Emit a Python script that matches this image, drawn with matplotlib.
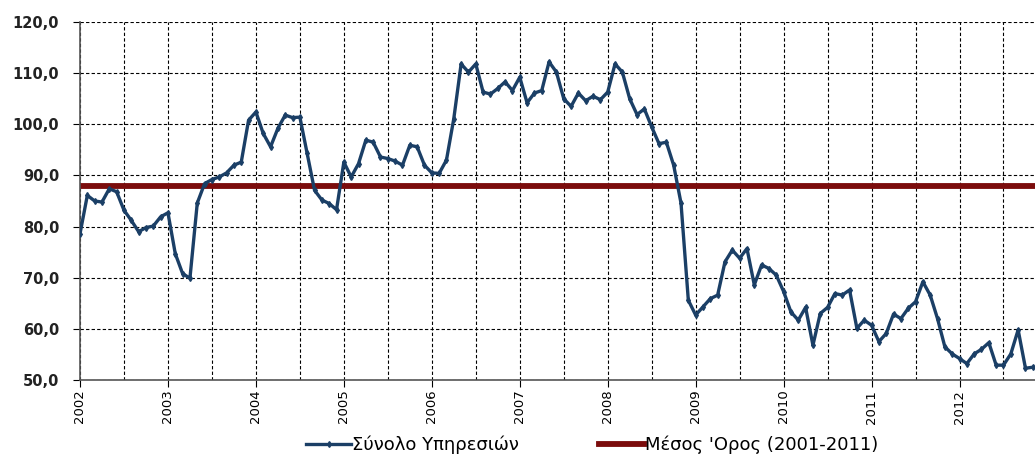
"""
Services confidence index, monthly 2002-2012, against its 2001-2011 mean.
"""

import matplotlib
matplotlib.use("Agg")
import matplotlib.pyplot as plt
import matplotlib.ticker as mticker
import numpy as np

# ---------------------------------------------------------------------------
# Data (Jan 2002 .. Nov 2012)
# ---------------------------------------------------------------------------

services = [
    78.6, 86.1, 85.0, 84.8, 87.4, 86.8, 83.2, 81.2, 79.0, 79.8, 80.1, 81.9,    # 2002
    82.7, 74.7, 70.8, 69.9, 84.6, 88.4, 89.2, 89.7, 90.5, 92.0, 92.6, 100.8,   # 2003
    102.4, 98.2, 95.6, 99.2, 101.8, 101.3, 101.4, 94.3, 87.1, 85.2, 84.5, 83.3,  # 2004
    92.6, 89.7, 92.3, 96.9, 96.5, 93.6, 93.3, 92.8, 92.0, 95.9, 95.6, 92.0,    # 2005
    90.5, 90.4, 93.0, 101.1, 111.8, 110.2, 111.8, 106.3, 105.9, 107.0, 108.3, 106.6,  # 2006
    109.2, 104.2, 106.1, 106.6, 112.2, 110.2, 105.0, 103.5, 106.1, 104.6, 105.5, 104.8,  # 2007
    106.3, 111.8, 110.2, 105.0, 101.9, 103.0, 99.5, 96.2, 96.5, 92.0, 84.6, 65.6,  # 2008
    62.7, 64.3, 65.9, 66.6, 73.1, 75.4, 73.8, 75.7, 68.6, 72.5, 71.8, 70.5,    # 2009
    67.3, 63.3, 61.7, 64.2, 56.8, 63.0, 64.2, 66.9, 66.6, 67.6, 60.1, 61.7,    # 2010
    60.7, 57.5, 59.1, 62.9, 62.0, 64.0, 65.3, 69.2, 66.6, 62.0, 56.5, 55.1,    # 2011
    54.2, 53.2, 55.1, 56.0, 57.3, 52.9, 52.9, 55.1, 59.8, 52.3, 52.5,          # 2012
]
mean_2001_2011 = 88.0
years = ["2002", "2003", "2004", "2005", "2006", "2007",
         "2008", "2009", "2010", "2011", "2012"]

series_label = "Σύνολο Υπηρεσιών"
mean_label = "Μέσος 'Ορος (2001-2011)"

# ---------------------------------------------------------------------------
# Plot
# ---------------------------------------------------------------------------

months = np.arange(len(services))

fig = plt.figure(figsize=(10.35, 4.61), dpi=100)
ax = fig.add_axes([80 / 1035, 1 - 380 / 461, 1 - 80 / 1035, (380 - 22) / 461])

ax.plot(months, services, color="#1b3f66", linewidth=2.4, marker="d",
        markersize=3, label=series_label, zorder=3)
ax.axhline(mean_2001_2011, color="#7b0c0c", linewidth=4.2, label=mean_label, zorder=2)

ax.set_xlim(0, 130.3)
ax.set_ylim(50, 120)

ax.xaxis.set_major_locator(mticker.FixedLocator(np.arange(len(years)) * 12))
ax.xaxis.set_major_formatter(mticker.FixedFormatter(years))
ax.xaxis.set_minor_locator(mticker.MultipleLocator(6))
ax.yaxis.set_major_locator(mticker.MultipleLocator(10))
ax.yaxis.set_major_formatter(mticker.FuncFormatter(lambda v, _: f"{v:.1f}".replace(".", ",")))

ax.tick_params(axis="x", which="major", rotation=90, labelsize=9.5, length=5, pad=2)
ax.tick_params(axis="x", which="minor", length=0)
ax.tick_params(axis="y", labelsize=10.5, length=5, pad=10)
for lbl in ax.get_yticklabels():
    lbl.set_fontweight("bold")
    lbl.set_color("#222222")

grid_style = dict(color="black", linestyle=(0, (3, 2)), linewidth=0.8)
ax.grid(True, axis="x", which="both", **grid_style)
ax.grid(True, axis="y", which="major", **grid_style)
ax.set_axisbelow(True)

for side in ("top", "right"):
    ax.spines[side].set_visible(False)
for side in ("left", "bottom"):
    ax.spines[side].set_color("#555555")
    ax.spines[side].set_linewidth(1.2)

fig.legend(loc="center", bbox_to_anchor=(0.572, 0.035), ncol=2, frameon=False,
           fontsize=13, handlelength=2.5, handletextpad=0.05, columnspacing=4.4)

fig.savefig("out.png", dpi=100)
plt.close(fig)
